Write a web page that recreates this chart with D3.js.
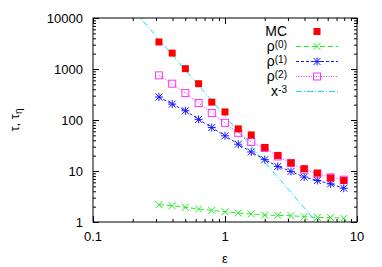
<!DOCTYPE html>
<html>
<head>
<meta charset="utf-8">
<script src="https://cdn.jsdelivr.net/npm/d3@7"></script>
<style>
  body { margin: 0; background: #fff; }
  svg { font-family: "Liberation Sans", Arial, sans-serif; }
</style>
</head>
<body>
<div id="chart"></div>
<script>
// data
var eps = [0.316, 0.398, 0.501, 0.631, 0.794, 1.0, 1.26, 1.58, 2.0, 2.51, 3.16, 3.98, 5.01, 6.31, 7.94];
var mc   = [3390, 2050, 1014, 515, 224, 144, 67, 51, 29, 20.2, 14.4, 11.1, 9.1, 7.3, 6.5];
var rho0 = [2.18, 2.09, 1.94, 1.80, 1.69, 1.59, 1.50, 1.44, 1.37, 1.35, 1.33, 1.27, 1.23, 1.22, 1.18];
var rho1 = [282, 205, 152, 103, 71, 49, 33.5, 23.6, 16.7, 12.3, 9.8, 7.6, 6.5, 5.6, 4.6];
var rho2 = [750, 515, 338, 215, 137, 88, 56, 37, 28.2, 19.3, 14.4, 10.6, 8.85, 7.5, 6.75];
var powC = 120;   // x^-3 reference line: powC * x^-3

var xTicks = [0.1, 1, 10];
var yTicks = [1, 10, 100, 1000, 10000];

var width = 382, height = 267;
var padding = { left: 93, right: 25, top: 18, bottom: 45 };
var canvasWidth = width - padding.left - padding.right;
var canvasHeight = height - padding.top - padding.bottom;

var svg = d3.select('#chart')
            .append('svg')
                .attr('width', width)
                .attr('height', height);

var g = svg.append('g')
           .attr('transform', 'translate(' + padding.left + ',' + padding.top + ')');

var xScale = d3.scaleLog().domain([0.1, 10]).range([0, canvasWidth]);
var yScale = d3.scaleLog().domain([1, 10000]).range([canvasHeight, 0]);

g.append('defs').append('clipPath').attr('id', 'clip')
    .append('rect').attr('width', canvasWidth).attr('height', canvasHeight);

// minor + major ticks, inward on all four sides
function minors(lo, hi) {
    var out = [];
    for (var d = lo; d < hi; d *= 10)
        for (var k = 2; k <= 9; k++) out.push(d * k);
    return out;
}
var xMinor = minors(0.1, 10), yMinor = minors(1, 10000);

function tickAxis(axisFn, scale, vals, size, transform) {
    var a = g.append('g').attr('transform', transform || null)
        .call(axisFn(scale).tickValues(vals).tickSize(size).tickFormat(''));
    a.select('.domain').remove();
    a.selectAll('line').attr('stroke', '#000');
}
tickAxis(d3.axisTop, xScale, xTicks, 6, 'translate(0,' + canvasHeight + ')');
tickAxis(d3.axisTop, xScale, xMinor, 3, 'translate(0,' + canvasHeight + ')');
tickAxis(d3.axisBottom, xScale, xTicks, 6);
tickAxis(d3.axisBottom, xScale, xMinor, 3);
tickAxis(d3.axisRight, yScale, yTicks, 6);
tickAxis(d3.axisRight, yScale, yMinor, 3);
tickAxis(d3.axisLeft, yScale, yTicks, 6, 'translate(' + canvasWidth + ',0)');
tickAxis(d3.axisLeft, yScale, yMinor, 3, 'translate(' + canvasWidth + ',0)');

g.append('rect')
    .attr('width', canvasWidth).attr('height', canvasHeight)
    .attr('fill', 'none').attr('stroke', '#000').attr('stroke-width', 1);

// tick labels
g.selectAll('.xl').data(xTicks).enter().append('text')
    .attr('x', function(d){ return xScale(d); })
    .attr('y', canvasHeight + 19)
    .attr('text-anchor', 'middle').attr('font-size', 13)
    .text(function(d){ return d; });
g.selectAll('.yl').data(yTicks).enter().append('text')
    .attr('x', -10).attr('y', function(d){ return yScale(d) + 4.5; })
    .attr('text-anchor', 'end').attr('font-size', 13)
    .text(function(d){ return d; });

// axis titles
svg.append('text')
    .attr('x', padding.left + xScale(1)).attr('y', 263)
    .attr('text-anchor', 'middle').attr('font-size', 13).text('ε');
var yt = svg.append('text')
    .attr('transform', 'translate(19,120) rotate(-90)')
    .attr('text-anchor', 'middle').attr('font-size', 13);
yt.append('tspan').text('τ, τ');
yt.append('tspan').attr('dy', 3).attr('font-size', 10).text('η');

var plot = g.append('g').attr('clip-path', 'url(#clip)');

// power law reference
var powX = d3.range(0, 101).map(function(i){ return Math.pow(10, -1 + i * 0.02); });
var line = d3.line()
    .x(function(d){ return xScale(d[0]); })
    .y(function(d){ return yScale(d[1]); });
plot.append('path')
    .attr('d', line(powX.map(function(x){ return [x, powC * Math.pow(x, -3)]; })))
    .attr('fill', 'none').attr('stroke', '#00e5ee').attr('stroke-width', 1)
    .attr('stroke-dasharray', '6,2,1,2');

function pairs(ys) { return eps.map(function(x, i){ return [x, ys[i]]; }); }

var series = [
    { name: 'rho0', data: rho0, color: '#22ee22', dash: '5,3', mark: 'cross' },
    { name: 'rho1', data: rho1, color: '#1a1aff', dash: '3,2', mark: 'star' },
    { name: 'rho2', data: rho2, color: '#ff33ff', dash: '1,1.5', mark: 'box' }
];

function drawMark(sel, type, color, x, y) {
    var s = 3.5;
    if (type === 'cross' || type === 'star') {
        sel.append('path')
            .attr('d', 'M' + (x - s) + ',' + (y - s) + 'L' + (x + s) + ',' + (y + s) +
                       'M' + (x - s) + ',' + (y + s) + 'L' + (x + s) + ',' + (y - s) +
                       (type === 'star' ? 'M' + (x - s - 0.5) + ',' + y + 'L' + (x + s + 0.5) + ',' + y +
                                          'M' + x + ',' + (y - s - 0.5) + 'L' + x + ',' + (y + s + 0.5) : ''))
            .attr('stroke', color).attr('stroke-width', 1).attr('fill', 'none');
    } else if (type === 'box') {
        sel.append('rect').attr('x', x - s).attr('y', y - s)
            .attr('width', 2 * s).attr('height', 2 * s)
            .attr('fill', 'none').attr('stroke', color).attr('stroke-width', 1);
    } else {
        sel.append('rect').attr('x', x - s).attr('y', y - s)
            .attr('width', 2 * s).attr('height', 2 * s)
            .attr('fill', color);
    }
}

series.forEach(function(sr){
    plot.append('path')
        .attr('d', line(pairs(sr.data)))
        .attr('fill', 'none').attr('stroke', sr.color).attr('stroke-width', 1)
        .attr('stroke-dasharray', sr.dash);
    pairs(sr.data).forEach(function(p){
        drawMark(plot, sr.mark, sr.color, xScale(p[0]), yScale(p[1]));
    });
});
pairs(mc).forEach(function(p){
    drawMark(plot, 'fill', '#ff0000', xScale(p[0]), yScale(p[1]));
});

// legend
var legend = svg.append('g').attr('font-size', 14);
var legItems = [
    { label: 'MC', sup: null, color: '#ff0000', mark: 'fill', dash: null },
    { label: 'ρ', sup: '(0)', color: series[0].color, mark: 'cross', dash: series[0].dash },
    { label: 'ρ', sup: '(1)', color: series[1].color, mark: 'star', dash: series[1].dash },
    { label: 'ρ', sup: '(2)', color: series[2].color, mark: 'box', dash: series[2].dash },
    { label: 'x', sup: '-3', color: '#00e5ee', mark: null, dash: '6,2,1,2' }
];
legItems.forEach(function(it, i){
    var y = 31.5 + i * 15;
    var t = legend.append('text').attr('x', 287).attr('y', y + 4).attr('text-anchor', 'end');
    t.append('tspan').text(it.label);
    if (it.sup) t.append('tspan').attr('dy', -3).attr('font-size', 10).text(it.sup);
    if (it.dash)
        legend.append('line').attr('x1', 296).attr('x2', 338).attr('y1', y).attr('y2', y)
            .attr('stroke', it.color).attr('stroke-width', 1).attr('stroke-dasharray', it.dash);
    if (it.mark) drawMark(legend, it.mark, it.color, 317, y);
});
</script>
</body>
</html>
